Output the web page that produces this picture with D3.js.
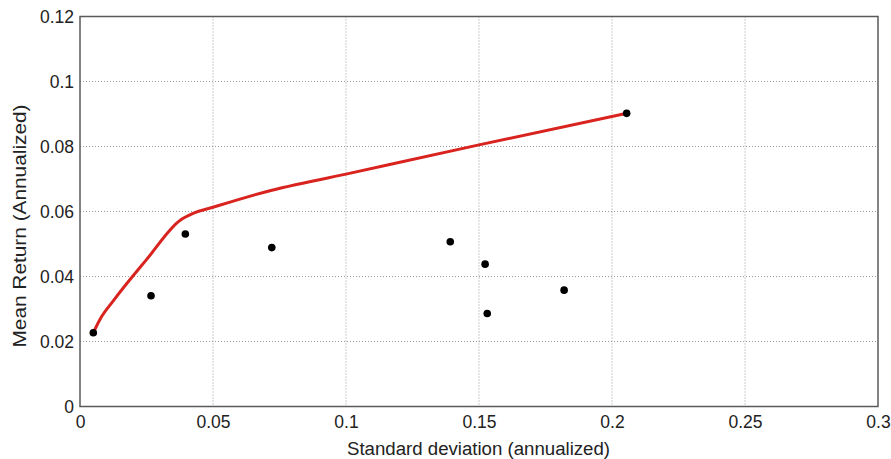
<!DOCTYPE html>
<html>
<head>
<meta charset="utf-8">
<script src="https://cdn.jsdelivr.net/npm/d3@7"></script>
<style>
body { margin: 0; background: #fff; }
text { font-family: "Liberation Sans", Arial, sans-serif; fill: #222; }
</style>
</head>
<body>
<svg id="chart" width="891" height="459"></svg>
<script>
// Asset points
const assetStd = [0.005, 0.0267, 0.0396, 0.0721, 0.1392, 0.1523, 0.1531, 0.182, 0.2055];
const assetRet = [0.0227, 0.0341, 0.0531, 0.0489, 0.0507, 0.0438, 0.0286, 0.0358, 0.0902];
// Efficient frontier
const frontierStd = [0.005, 0.0075, 0.0125, 0.025, 0.0378, 0.0425, 0.05, 0.07, 0.1, 0.15, 0.2055];
const frontierRet = [0.0227, 0.0268, 0.0325, 0.0452, 0.0574, 0.0594, 0.0613, 0.0661, 0.0715, 0.0805, 0.0902];
// Ticks
const xTicks = [0, 0.05, 0.1, 0.15, 0.2, 0.25, 0.3];
const xTickLabels = ["0", "0.05", "0.1", "0.15", "0.2", "0.25", "0.3"];
const yTicks = [0, 0.02, 0.04, 0.06, 0.08, 0.1, 0.12];
const yTickLabels = ["0", "0.02", "0.04", "0.06", "0.08", "0.1", "0.12"];

const svg = d3.select("#chart");
const L = 80, R = 878, T = 16.5, B = 406.5;
const x = d3.scaleLinear().domain([0, 0.3]).range([L, R]);
const y = d3.scaleLinear().domain([0, 0.12]).range([B, T]);

// grid
const grid = svg.append("g");
grid.selectAll("line.gx").data(xTicks.slice(1, -1)).enter().append("line")
  .attr("x1", d => x(d)).attr("x2", d => x(d)).attr("y1", T).attr("y2", B)
  .attr("stroke", "#999").attr("stroke-width", 1).attr("stroke-dasharray", "1,2");
grid.selectAll("line.gy").data(yTicks.slice(1, -1)).enter().append("line")
  .attr("y1", d => y(d)).attr("y2", d => y(d)).attr("x1", L).attr("x2", R)
  .attr("stroke", "#999").attr("stroke-width", 1).attr("stroke-dasharray", "1,2");

// axes
const xAxis = d3.axisBottom(x).tickValues(xTicks).tickFormat((d, i) => xTickLabels[i]).tickSize(0).tickPadding(8);
const yAxis = d3.axisLeft(y).tickValues(yTicks).tickFormat((d, i) => yTickLabels[i]).tickSize(0).tickPadding(6);
const gx = svg.append("g").attr("transform", `translate(0,${B})`).call(xAxis);
const gy = svg.append("g").attr("transform", `translate(${L},0)`).call(yAxis);
[gx, gy].forEach(g => {
  g.select(".domain").remove();
  g.selectAll("text").style("font-size", "17.5px").style("font-family", "Liberation Sans, Arial, sans-serif").attr("fill", "#222");
});
gx.selectAll("text").attr("dy", null).attr("y", 21);
gy.selectAll("text").attr("dy", "0.36em");

// box
svg.append("rect").attr("x", L).attr("y", T).attr("width", R - L).attr("height", B - T)
  .attr("fill", "none").attr("stroke", "#5a5a5a").attr("stroke-width", 1.5);

// frontier
const line = d3.line().x(d => x(d[0])).y(d => y(d[1])).curve(d3.curveMonotoneX);
svg.append("path").datum(frontierStd.map((s, i) => [s, frontierRet[i]]))
  .attr("d", line).attr("fill", "none").attr("stroke", "#d8231f").attr("stroke-width", 3)
  .attr("stroke-linejoin", "round").attr("stroke-linecap", "round");

// points
svg.append("g").selectAll("circle").data(assetStd.map((s, i) => [s, assetRet[i]])).enter()
  .append("circle").attr("cx", d => x(d[0])).attr("cy", d => y(d[1])).attr("r", 3.8).attr("fill", "#000");

// labels
svg.append("text").attr("x", 478.5).attr("y", 455).attr("text-anchor", "middle")
  .style("font-size", "18px").attr("textLength", 263).attr("lengthAdjust", "spacingAndGlyphs")
  .text("Standard deviation (annualized)");
svg.append("text").attr("transform", `translate(26,226) rotate(-90)`).attr("text-anchor", "middle")
  .style("font-size", "18px").attr("textLength", 243).attr("lengthAdjust", "spacingAndGlyphs")
  .text("Mean Return (Annualized)");
</script>
</body>
</html>
